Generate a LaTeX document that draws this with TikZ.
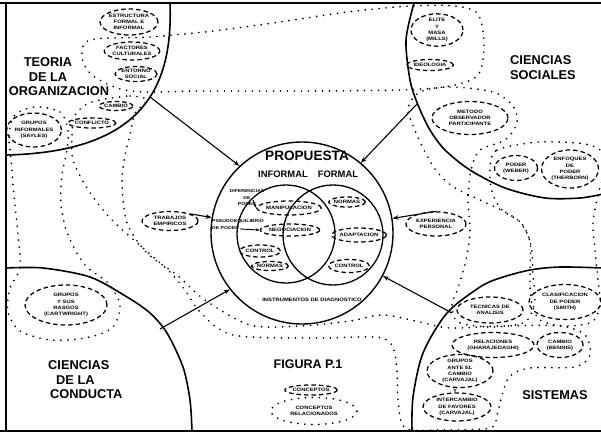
\documentclass[tikz,border=0pt]{standalone}
\usepackage{fontspec}
\setmainfont{Liberation Sans}
\newfontface\extb[FakeStretch=1.22]{Liberation Sans Bold}
\usetikzlibrary{shapes.geometric,arrows.meta}
\newcommand\smf{\fontsize{4.8}{6.2}\extb}
\newcommand\bgf{\fontsize{12.8}{14.5}\selectfont\bfseries}
\begin{document}
\begin{tikzpicture}[x=1pt,y=-1pt,
  conc/.style={ellipse, draw, line width=1.25pt, dash pattern=on 4.5pt off 3pt, inner sep=0pt, align=center, font=\smf},
  relreg/.style={line width=1.9pt, dash pattern=on 0pt off 7pt, line cap=round},
  bigarc/.style={line width=1.6pt},
  arr/.style={-{Stealth[length=6pt,width=4.5pt]}, line width=1.1pt},
  biglbl/.style={font=\bgf, align=left, inner sep=0pt},
  tiny/.style={font=\smf, align=center, inner sep=0pt}]
\useasboundingbox (0,0) rectangle (601,434);
\clip (0,0) rectangle (601,434);
\fill[white] (0,0) rectangle (601,434);

% frame
\draw[line width=1.6pt] (0,3) -- (601,3);
\draw[line width=1.3pt] (6,3) -- (6,431);
\draw[line width=1.6pt] (0,431) -- (601,431);

% quadrant arcs
\draw[bigarc] (170,3) .. controls (173,85) and (145,152) .. (6,155);
\draw[bigarc] plot[smooth] coordinates {(414,3) (406,40) (410,80) (418,105) (430,130) (445,150) (470,170) (505,188) (545,198) (580,198) (603,194)};
\draw[bigarc] plot[smooth] coordinates {(6,268) (43,268) (90,277) (127,297) (150,313) (167,333) (183,367) (190,400) (192,431)};
\draw[bigarc] plot[smooth] coordinates {(412,431) (413,397) (423,353) (447,313) (480,287) (500,278) (530,270) (560,267) (603,268)};

% related-concept regions (dotted)
\draw[relreg] plot[smooth cycle] coordinates {(90,40) (150,37) (213,31) (280,22) (347,12) (410,6) (455,6) (478,14) (484,45) (478,75) (450,86) (400,90) (300,91) (200,91) (145,92) (117,88) (92,75) (82,58)};
\draw[relreg] plot[smooth cycle] coordinates {(100,100) (130,96) (147,100) (135,113) (130,135) (125,155) (122,183) (127,223) (147,253) (177,275) (205,300) (250,325) (300,326) (350,321) (383,315) (420,322) (450,328) (500,326) (560,326) (585,335) (590,355) (575,367) (530,368) (510,376) (502,395) (497,415) (490,428) (440,430) (405,428) (398,400) (397,370) (392,345) (375,337) (317,338) (233,335) (200,312) (185,290) (170,272) (143,248) (110,218) (87,188) (73,160) (72,135) (74,117) (85,105)};
\draw[relreg] plot[smooth cycle] coordinates {(35,107) (60,112) (68,130) (67,150) (62,175) (61,205) (68,235) (85,265) (108,283) (120,305) (112,328) (85,338) (50,340) (20,331) (8,312) (10,288) (20,268) (18,235) (14,195) (11,160) (9,135) (15,115)};
\draw[relreg] plot[smooth cycle] coordinates {(420,92) (450,87) (493,92) (513,106) (517,123) (505,140) (480,150) (471,170) (468,200) (470,230) (466,260) (458,288) (452,305) (458,322) (490,327) (525,322) (535,300) (533,275) (531,245) (522,224) (505,212) (480,200) (455,188) (438,173) (425,152) (414,128) (408,108)};
\draw[relreg] plot[smooth cycle] coordinates {(490,168) (497,150) (540,142) (590,145) (606,160) (598,195) (593,223) (595,250) (598,280) (600,305) (592,322) (565,326) (540,320) (531,300) (530,270) (530,242) (520,222) (502,210) (492,192)};

% central proposal
\node[circle, draw, line width=1.4pt, minimum size=182pt, inner sep=0pt] (prop) at (302,233) {};
\draw[line width=1.3pt] (286,234) circle (49pt);
\draw[line width=1.3pt] (333,235) circle (50pt);
\node[font=\fontsize{13.6}{14}\selectfont\bfseries, inner sep=0pt] (ptitle) at (307,156) {PROPUESTA};
\node[font=\fontsize{9.4}{10}\selectfont\bfseries, inner sep=0pt] (pinf) at (283,174) {INFORMAL};
\node[font=\fontsize{9.4}{10}\selectfont\bfseries, inner sep=0pt] (pfor) at (338,174) {FORMAL};
\node[tiny] (instr) at (312,300) {INSTRUMENTOS DE DIAGNOSTICO};

\node[tiny, font=\fontsize{4.2}{6.5}\extb] (difp) at (247,198) {DIFERENCIAS\\DE\\PODER};
\node[tiny, font=\fontsize{4.2}{7}\extb, align=left, anchor=west] (pseu) at (212,225) {PSEUDOEQUILIBRIO\\DE PODER};
\node[conc, minimum width=52pt, minimum height=14pt] (mani) at (289,208) {MANIPULACION};
\node[conc, minimum width=54pt, minimum height=12pt] (nego) at (290,230) {NEGOCIACION};
\node[conc, minimum width=37pt, minimum height=12pt] (ctla) at (260,251) {CONTROL};
\node[conc, minimum width=36pt, minimum height=9pt] (nora) at (270,266) {NORMAS};
\node[conc, minimum width=31pt, minimum height=10pt] (norb) at (347,202) {NORMAS};
\node[conc, minimum width=50pt, minimum height=14pt] (adap) at (359,235) {ADAPTACION};
\node[conc, minimum width=37pt, minimum height=13pt] (ctlb) at (349,266) {CONTROL};
\draw[-{Stealth[length=4pt,width=3pt]}, line width=0.9pt] (253,200) -- (mani.west);
\draw[-{Stealth[length=4pt,width=3pt]}, line width=0.9pt] (240,229) -- (nego.west);

% side inputs
\node[conc, minimum width=56pt, minimum height=19pt] (trab) at (170,221) {TRABAJOS\\EMPIRICOS};
\node[conc, minimum width=60pt, minimum height=24pt] (expe) at (436,224) {EXPERIENCIA\\PERSONAL};
\draw[arr] (trab.north east) -- (prop);
\draw[arr] (expe.north) -- (prop);

% quadrant arrows
\coordinate (tlA) at (150,97);
\coordinate (trA) at (417,104);
\coordinate (blA) at (160,329);
\coordinate (brA) at (452,313);
\draw[arr] (tlA) -- (prop.133);
\draw[arr] (trA) -- (prop.50);
\draw[arr] (blA) -- (prop.218);
\draw[arr] (brA) -- (prop.-28);

% top-left: teoria de la organizacion
\node[biglbl] (tl1) at (48,62) {TEORIA};
\node[biglbl] (tl2) at (48,77) {DE LA};
\node[biglbl] (tl3) at (59,91) {ORGANIZACION};
\node[conc, minimum width=58pt, minimum height=26pt] (estr) at (129,22) {ESTRUCTURA\\FORMAL E\\INFORMAL};
\node[conc, minimum width=50pt, minimum height=18pt] (fact) at (132,51) {FACTORES\\CULTURALES};
\node[conc, minimum width=42pt, minimum height=15pt] (ento) at (136,74) {ENTORNO\\SOCIAL};
\node[conc, minimum width=34pt, minimum height=9pt] (camb) at (116,106) {CAMBIO};
\node[conc, minimum width=43pt, minimum height=10pt] (conf) at (92,123) {CONFLICTO};
\node[conc, minimum width=53pt, minimum height=34pt] (grin) at (34,130) {GRUPOS\\INFORMALES\\(SAYLES)};

% top-right: ciencias sociales
\node[biglbl, anchor=west] (tr1) at (510,60) {CIENCIAS};
\node[biglbl, anchor=west] (tr2) at (510,75) {SOCIALES};
\node[conc, minimum width=52pt, minimum height=30pt] (elit) at (437,30) {ELITE\\Y\\MASA\\(MILLS)};
\node[conc, minimum width=47pt, minimum height=11pt] (ideo) at (430,65) {IDEOLOGIA};
\node[conc, minimum width=76pt, minimum height=33pt] (meto) at (470,118) {METODO\\OBSERVADOR\\PARTICIPANTE};
\node[conc, minimum width=43pt, minimum height=25pt] (pode) at (516,168) {PODER\\(WEBER)};
\node[conc, minimum width=57pt, minimum height=38pt] (enfo) at (570,169) {ENFOQUES\\DE\\PODER\\(THERBORN)};

% bottom-left: ciencias de la conducta
\node[biglbl, anchor=west] (bl1) at (48,365) {CIENCIAS};
\node[biglbl, anchor=west] (bl2) at (56,380) {DE LA};
\node[biglbl, anchor=west] (bl3) at (50,394) {CONDUCTA};
\node[conc, minimum width=82pt, minimum height=40pt] (grsr) at (66,305) {GRUPOS\\Y SUS\\RASGOS\\(CARTWRIGHT)};

% bottom-right: sistemas
\node[biglbl] (br1) at (555,395) {SISTEMAS};
\node[conc, minimum width=66pt, minimum height=26pt] (tecn) at (490,310) {TECNICAS DE\\ANALISIS};
\node[conc, minimum width=72pt, minimum height=35pt] (clas) at (565,302) {CLASIFICACION\\DE PODER\\(SMITH)};
\node[conc, minimum width=82pt, minimum height=25pt] (rela) at (493,345) {RELACIONES\\(GHARAJEDAGHI)};
\node[conc, minimum width=46pt, minimum height=25pt] (cben) at (560,345) {CAMBIO\\(BENNIS)};
\node[conc, minimum width=66pt, minimum height=33pt] (grca) at (460,371) {GRUPOS\\ANTE EL\\CAMBIO\\(CARVAJAL)};
\node[tiny] (yand) at (455,391) {Y};
\node[conc, minimum width=68pt, minimum height=28pt] (inte) at (457,407) {INTERCAMBIO\\DE FAVORES\\(CARVAJAL)};

% legend
\node[font=\fontsize{12.5}{13}\selectfont\bfseries, inner sep=0pt] (fig) at (308,364) {FIGURA P.1};
\node[conc, minimum width=44pt, minimum height=10pt] (lgc) at (311,390) {CONCEPTOS};
\node[ellipse, relreg, draw, minimum width=86pt, minimum height=27pt, inner sep=0pt, align=center, font=\smf] (lgr) at (314,411) {CONCEPTOS\\RELACIONADOS};
\end{tikzpicture}
\end{document}
